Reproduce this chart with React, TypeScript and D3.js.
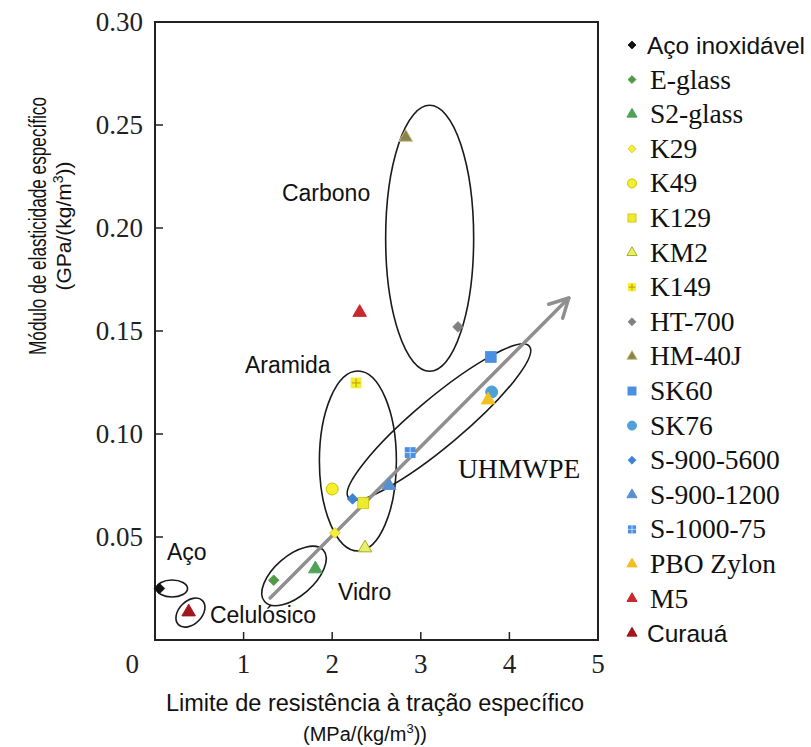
import React from 'react';
import * as d3 from 'd3';

const W = 811;
const H = 747;

// materiais (legenda) e valores
const materials = [
  'Aço inoxidável', 'E-glass', 'S2-glass', 'K29', 'K49', 'K129', 'KM2', 'K149', 'HT-700',
  'HM-40J', 'SK60', 'SK76', 'S-900-5600', 'S-900-1200', 'S-1000-75', 'PBO Zylon', 'M5', 'Curauá',
];
const strength = [0.05, 1.34, 1.81, 2.03, 2.0, 2.35, 2.37, 2.27, 3.42, 2.83, 3.79, 3.8, 2.23, 2.64, 2.88, 3.76, 2.31, 0.38];
const modulus = [0.025, 0.029, 0.0345, 0.052, 0.0733, 0.0665, 0.0447, 0.1248, 0.152, 0.244, 0.1374, 0.1204, 0.0685, 0.075, 0.091, 0.1165, 0.159, 0.0136];
const shapes = [
  'diamond', 'diamond', 'triangle', 'diamond', 'circle', 'square', 'triangle', 'plusSquare', 'diamond',
  'triangle', 'square', 'circle', 'diamond', 'triangle', 'gridSquare', 'triangle', 'triangle', 'triangle',
];
const fills = [
  '#111111', '#4f9a45', '#4fa356', '#f5ee3a', '#f3ef2c', '#eeea30', '#e9ef6a', '#f2ee2e', '#808080',
  '#8a8152', '#4a90e2', '#4f9fd8', '#3f82d6', '#5a8fd2', '#4a90e2', '#f2c021', '#c8292c', '#a3161a',
];
const strokes = [
  '#111111', '#4f9a45', '#4fa356', '#d8c800', '#c9c400', '#c9c400', '#a8b020', '#d0c400', '#808080',
  '#c9c07a', '#4a90e2', '#4f9fd8', '#3f82d6', '#5a8fd2', '#4a90e2', '#f2c021', '#c8292c', '#a3161a',
];
const sansLegend = ['Aço inoxidável', 'Curauá'];

const xTicks = [1, 2, 3, 4, 5];
const yTicks = [0.05, 0.1, 0.15, 0.2, 0.25, 0.3];

// grupos (elipses)
const groupNames = ['Carbono', 'Aramida', 'UHMWPE', 'Vidro', 'Aço', 'Celulósico'];
const groupCx = [3.1, 2.29, 3.205, 1.569, 0.192, 0.4];
const groupCy = [0.195, 0.0869, 0.1058, 0.0311, 0.025, 0.0133];
const groupRx = [44, 38.5, 118, 39, 15.5, 17];
const groupRy = [133, 90, 24, 20, 8.5, 11.5];
const groupAngle = [0, 0, -40, -41, 0, -45];
const labelX = [1.433, 1.016, 3.42, 2.065, 0.135, 0.62];
const labelY = [0.2131, 0.1296, 0.0786, 0.0194, 0.0388, 0.0083];
const labelSerif = [false, false, true, false, false, false];

const arrowFrom = [1.3, 0.0204];
const arrowTo = [4.67, 0.166];

const SERIF = '"Liberation Serif", "Times New Roman", serif';
const SANS = '"Liberation Sans", Arial, sans-serif';

const diamondType: any = (d3 as any).symbolDiamond2 ?? d3.symbolSquare;

function Marker({ shape, fill, stroke, s, cx, cy }: any) {
  const t = `translate(${cx},${cy})`;
  if (shape === 'diamond') {
    return <path transform={t} d={d3.symbol(diamondType, (s * s) / 2)() as string} fill={fill} stroke={stroke} strokeWidth={0.8} />;
  }
  if (shape === 'triangle') {
    return <path transform={t} d={d3.symbol(d3.symbolTriangle, s * s * 0.55)() as string} fill={fill} stroke={stroke} strokeWidth={1} />;
  }
  if (shape === 'circle') {
    return <circle cx={cx} cy={cy} r={s / 2} fill={fill} stroke={stroke} strokeWidth={1} />;
  }
  const h = s * 0.45;
  if (shape === 'square') {
    return <rect x={cx - h} y={cy - h} width={2 * h} height={2 * h} fill={fill} stroke={stroke} strokeWidth={0.8} />;
  }
  if (shape === 'plusSquare') {
    return (
      <g>
        <rect x={cx - h} y={cy - h} width={2 * h} height={2 * h} fill={fill} stroke="none" />
        <path d={`M${cx - h * 0.8},${cy}H${cx + h * 0.8}M${cx},${cy - h * 0.8}V${cy + h * 0.8}`} stroke="#c8a800" strokeWidth={1.2} />
      </g>
    );
  }
  // gridSquare
  return (
    <g>
      <rect x={cx - h} y={cy - h} width={2 * h} height={2 * h} fill={fill} stroke="none" />
      <path d={`M${cx - h},${cy}H${cx + h}M${cx},${cy - h}V${cy + h}`} stroke="#ffffff" strokeWidth={0.8} opacity={0.8} />
    </g>
  );
}

export default function App() {
  const x = d3.scaleLinear().domain([0, 5]).range([155, 598]);
  const y = d3.scaleLinear().domain([0, 0.3]).range([640, 22]);
  const [x0, x1] = x.range();
  const [y0, y1] = y.range();

  const ax = x(arrowFrom[0]);
  const ay = y(arrowFrom[1]);
  const bx = x(arrowTo[0]);
  const by = y(arrowTo[1]);
  const ang = Math.atan2(by - ay, bx - ax);
  const arm = 21;
  const spread = (28 * Math.PI) / 180;
  const head = [ang + Math.PI - spread, ang + Math.PI + spread]
    .map((a) => `M${bx},${by}L${bx + arm * Math.cos(a)},${by + arm * Math.sin(a)}`)
    .join('');

  const legendX = 632;
  const legendY = (i: number) => 45 + 34.6 * i;

  return (
    <svg width={W} height={H} style={{ position: 'absolute', left: 0, top: 0, background: '#fff' }}>
      <rect width={W} height={H} fill="#fff" />

      {/* moldura */}
      <rect x={x0} y={y1} width={x1 - x0} height={y0 - y1} fill="none" stroke="#222" strokeWidth={2} />

      {/* ticks */}
      {xTicks.slice(0, -1).map((t) => (
        <line key={'xt' + t} x1={x(t)} x2={x(t)} y1={y0} y2={y0 - 8} stroke="#222" strokeWidth={1.5} />
      ))}
      {yTicks.slice(0, -1).map((t) => (
        <line key={'yt' + t} x1={x0} x2={x0 + 8} y1={y(t)} y2={y(t)} stroke="#222" strokeWidth={1.5} />
      ))}

      {/* tick labels */}
      <g fontFamily={SERIF} fontSize={27} fill="#222">
        {xTicks.map((t) => (
          <text key={'xl' + t} x={x(t)} y={673} textAnchor="middle">{t}</text>
        ))}
        <text x={x0 - 16} y={673} textAnchor="end">0</text>
        {yTicks.map((t) => (
          <text key={'yl' + t} x={x0 - 12} y={y(t) + 9} textAnchor="end">{t.toFixed(2)}</text>
        ))}
      </g>

      {/* elipses */}
      {groupNames.map((g, i) => (
        <ellipse
          key={'e' + g}
          cx={0}
          cy={0}
          rx={groupRx[i]}
          ry={groupRy[i]}
          transform={`translate(${x(groupCx[i])},${y(groupCy[i])}) rotate(${groupAngle[i]})`}
          fill="none"
          stroke="#1a1a1a"
          strokeWidth={1.6}
        />
      ))}

      {/* seta */}
      <g stroke="#8f8f8f" strokeWidth={3.5} fill="none" strokeLinecap="round">
        <line x1={ax} y1={ay} x2={bx} y2={by} />
        <path d={head} />
      </g>

      {/* pontos */}
      {materials.map((m, i) => (
        <Marker key={'p' + m} shape={shapes[i]} fill={fills[i]} stroke={strokes[i]} s={12} cx={x(strength[i])} cy={y(modulus[i])} />
      ))}

      {/* rótulos dos grupos */}
      {groupNames.map((g, i) => (
        <text
          key={'l' + g}
          x={x(labelX[i])}
          y={y(labelY[i])}
          fontFamily={labelSerif[i] ? SERIF : SANS}
          fontSize={labelSerif[i] ? 27.5 : 23}
          fill="#111"
        >
          {g}
        </text>
      ))}

      {/* legenda */}
      {materials.map((m, i) => {
        const sans = sansLegend.includes(m);
        return (
          <g key={'lg' + m}>
            <Marker shape={shapes[i]} fill={fills[i]} stroke={strokes[i]} s={9} cx={legendX} cy={legendY(i)} />
            <text
              x={legendX + (sans ? 15 : 18)}
              y={legendY(i) + 9}
              fontFamily={sans ? SANS : SERIF}
              fontSize={sans ? 24.5 : 27.5}
              fill="#111"
            >
              {m}
            </text>
          </g>
        );
      })}

      {/* títulos dos eixos */}
      <g fontFamily={SANS} fill="#111">
        <text x={375} y={711} textAnchor="middle" fontSize={23.5}>
          Limite de resistência à tração específico
        </text>
        <text x={365} y={741} textAnchor="middle" fontSize={20}>
          (MPa/(kg/m<tspan dy={-8} fontSize={13}>3</tspan><tspan dy={8}>))</tspan>
        </text>
        <g transform="translate(46,226) rotate(-90)">
          <text x={0} y={0} textAnchor="middle" fontSize={23} textLength={258} lengthAdjust="spacingAndGlyphs">
            Módulo de elasticidade específico
          </text>
        </g>
        <g transform="translate(71,226) rotate(-90)">
          <text x={0} y={0} textAnchor="middle" fontSize={21}>
            (GPa/(kg/m<tspan dy={-8} fontSize={14}>3</tspan><tspan dy={8}>))</tspan>
          </text>
        </g>
      </g>
    </svg>
  );
}
